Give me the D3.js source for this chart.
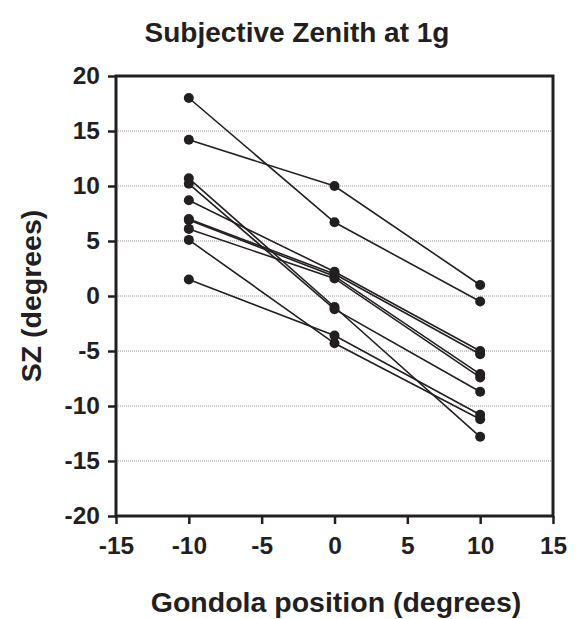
<!DOCTYPE html>
<html>
<head>
<meta charset="utf-8">
<script src="https://cdn.jsdelivr.net/npm/d3@7"></script>
<style>
  html, body { margin: 0; padding: 0; background: #fff; }
  svg { display: block; font-family: "Liberation Sans", Arial, Helvetica, sans-serif; }
</style>
</head>
<body>
<svg id="chart" width="580" height="619"></svg>
<script>
// Gondola positions (x categories)
const positions = [-10, 0, 10];
// One array per subject: SZ (degrees) at -10, 0, 10
const subject1  = [18.0, 6.7, -0.5];
const subject2  = [14.2, 10.0, 1.0];
const subject3  = [10.7, -1.0, -12.8];
const subject4  = [10.2, -1.2, -8.7];
const subject5  = [8.7, 2.2, -5.0];
const subject6  = [7.0, 2.0, -5.3];
const subject7  = [6.9, 1.8, -7.1];
const subject8  = [6.1, 1.6, -7.4];
const subject9  = [5.1, -4.3, -11.2];
const subject10 = [1.5, -3.6, -10.8];
const subjects = [subject1, subject2, subject3, subject4, subject5,
                  subject6, subject7, subject8, subject9, subject10];
const xTicks = [-15, -10, -5, 0, 5, 10, 15];
const yTicks = [-20, -15, -10, -5, 0, 5, 10, 15, 20];
const gridTicks = [-15, -10, -5, 0, 5, 10, 15];

const svg = d3.select("#chart");
const mLeft = 116, mRight = 553, mTop = 76, mBottom = 516;
const x = d3.scaleLinear().domain([-15, 15]).range([mLeft, mRight]);
const y = d3.scaleLinear().domain([-20, 20]).range([mBottom, mTop]);
const ink = "#231f20";
const fmt = d => String(d);

// gridlines
svg.append("g").selectAll("line").data(gridTicks).join("line")
  .attr("x1", mLeft).attr("x2", mRight)
  .attr("y1", d => y(d)).attr("y2", d => y(d))
  .attr("stroke", "#9a9a9a").attr("stroke-width", 1)
  .attr("stroke-dasharray", "1,1");

// axes
const xAxis = svg.append("g").attr("transform", `translate(0,${mBottom})`)
  .call(d3.axisBottom(x).tickValues(xTicks).tickSize(8).tickPadding(13).tickFormat(fmt));
const yAxis = svg.append("g").attr("transform", `translate(${mLeft},0)`)
  .call(d3.axisLeft(y).tickValues(yTicks).tickSize(8).tickPadding(8).tickFormat(fmt));
[xAxis, yAxis].forEach(g => {
  g.select(".domain").remove();
  g.selectAll(".tick line").attr("stroke", ink).attr("stroke-width", 2.5);
  g.selectAll(".tick text").attr("fill", ink).attr("font-size", 24.5).attr("font-weight", "bold")
    .attr("font-family", "'Liberation Sans', Arial, sans-serif");
});

// frame
svg.append("rect").attr("x", mLeft).attr("y", mTop)
  .attr("width", mRight - mLeft).attr("height", mBottom - mTop)
  .attr("fill", "none").attr("stroke", ink).attr("stroke-width", 3);

// lines
const line = d3.line().x((d, i) => x(positions[i])).y(d => y(d));
svg.append("g").selectAll("path").data(subjects).join("path")
  .attr("d", line).attr("fill", "none").attr("stroke", ink).attr("stroke-width", 1.6);

// points
const pts = subjects.flatMap(s => s.map((v, i) => ({x: positions[i], y: v})));
svg.append("g").selectAll("circle").data(pts).join("circle")
  .attr("cx", d => x(d.x)).attr("cy", d => y(d.y)).attr("r", 5).attr("fill", ink);

// titles
svg.append("text").attr("x", 297).attr("y", 42)
  .attr("text-anchor", "middle").attr("font-size", 28).attr("font-weight", "bold")
  .attr("fill", ink).text("Subjective Zenith at 1g");
svg.append("text").attr("x", 336).attr("y", 612)
  .attr("text-anchor", "middle").attr("font-size", 28.5).attr("font-weight", "bold")
  .attr("fill", ink).text("Gondola position (degrees)");
svg.append("text").attr("transform", `translate(41,${(mTop + mBottom) / 2}) rotate(-90)`)
  .attr("text-anchor", "middle").attr("font-size", 28.5).attr("font-weight", "bold")
  .attr("fill", ink).text("SZ (degrees)");
</script>
</body>
</html>
